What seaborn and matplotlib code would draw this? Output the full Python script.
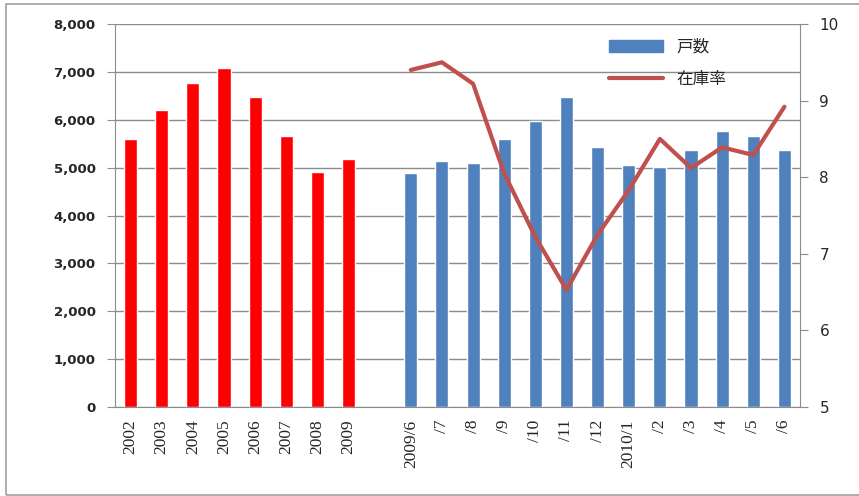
import matplotlib

matplotlib.use("Agg")
import matplotlib.pyplot as plt
import numpy as np
import pandas as pd
import seaborn as sns
from matplotlib.lines import Line2D
from matplotlib.patches import Patch, Rectangle
from matplotlib.ticker import FuncFormatter, MultipleLocator

# ---------- data ----------
years = ["2002", "2003", "2004", "2005", "2006", "2007", "2008", "2009"]
year_units = [5600, 6200, 6760, 7080, 6470, 5660, 4900, 5170]

months = ["2009/6", "/7", "/8", "/9", "/10", "/11", "/12", "2010/1",
          "/2", "/3", "/4", "/5", "/6"]
month_units = [4880, 5130, 5090, 5600, 5970, 6470, 5430, 5050,
               5010, 5370, 5760, 5660, 5370]
stock_rate = [9.40, 9.50, 9.22, 8.05, 7.22, 6.53, 7.25, 7.83,
              8.50, 8.12, 8.39, 8.29, 8.92]

gap = " "
order = years + [gap] + months

df = pd.DataFrame({
    "label": years + months,
    "units": year_units + month_units,
    "group": ["year"] * len(years) + ["month"] * len(months),
})

RED = "#FF0000"
BLUE = "#4F81BD"
LINE = "#C0504D"
GRID = "#8C8C8C"

sns.set_style("white")
# serif for the category labels; CJK for the legend
plt.rcParams["font.family"] = ["Liberation Serif", "Noto Sans CJK JP", "DejaVu Sans"]
plt.rcParams["xtick.labelsize"] = 12.5

fig = plt.figure(figsize=(8.59, 4.96), dpi=100)
ax = fig.add_axes([0.1339, 0.1794, 0.7974, 0.7722])

sns.barplot(
    data=df, x="label", y="units", hue="group", order=order,
    palette={"year": RED, "month": BLUE}, dodge=False, width=0.42,
    legend=False, ax=ax, saturation=1,
)

# stock rate on the right axis
ax2 = ax.twinx()
month_pos = np.arange(len(years) + 1, len(order))
sns.lineplot(x=month_pos, y=stock_rate, color=LINE, lw=3, ax=ax2)
ax2.xaxis.set_visible(False)

ax.set_ylim(0, 8000)
ax.set_xlim(-0.5, len(order) - 0.5)
ax.yaxis.set_major_locator(MultipleLocator(1000))
ax.yaxis.set_major_formatter(FuncFormatter(lambda v, _: f"{int(v):,}"))
ax.grid(axis="y", color=GRID, lw=1)
ax.set_axisbelow(True)
ax.set_xlabel("")
ax.set_ylabel("")

# category tick labels, tick marks at the category boundaries
ax.set_xticks(range(len(order)))
ax.set_xticklabels(order, rotation=90, fontsize=12.5, fontfamily="Liberation Serif")
ax.set_xticks(np.arange(-0.5, len(order)), minor=True)
ax.tick_params(axis="x", which="major", length=0, pad=9)
ax.tick_params(axis="x", which="minor", length=5, color=GRID)
ax.tick_params(axis="y", length=6, color=GRID, direction="out", pad=8,
               labelsize=9.5, labelfontfamily="DejaVu Sans")

for side in ["top", "right"]:
    ax.spines[side].set_visible(False)
for side in ["left", "bottom"]:
    ax.spines[side].set_color(GRID)

ax2.set_ylim(5, 10)
ax2.yaxis.set_major_locator(MultipleLocator(1))
ax2.tick_params(axis="y", length=6, color=GRID, pad=8, labelsize=11,
                labelfontfamily="DejaVu Sans")
for side in ["top", "left", "bottom"]:
    ax2.spines[side].set_visible(False)
ax2.spines["right"].set_color(GRID)
ax2.grid(False)

handles = [Patch(color=BLUE), Line2D([], [], color=LINE, lw=3)]
ax2.legend(handles, ["戸数", "在庫率"], loc="upper left",
           bbox_to_anchor=(0.70, 1.0), frameon=False,
           prop={"family": ["Noto Sans CJK JP"], "size": 12},
           handlelength=3.2, labelspacing=0.9)

fig.add_artist(Rectangle((0.007, 0.002), 1.05, 0.99, transform=fig.transFigure,
                         fill=False, edgecolor="#A0A0A0", lw=1.2))

fig.canvas.draw()
for t in ax.get_yticklabels():
    t.set_fontweight("bold")

fig.savefig("out.png", dpi=100)
